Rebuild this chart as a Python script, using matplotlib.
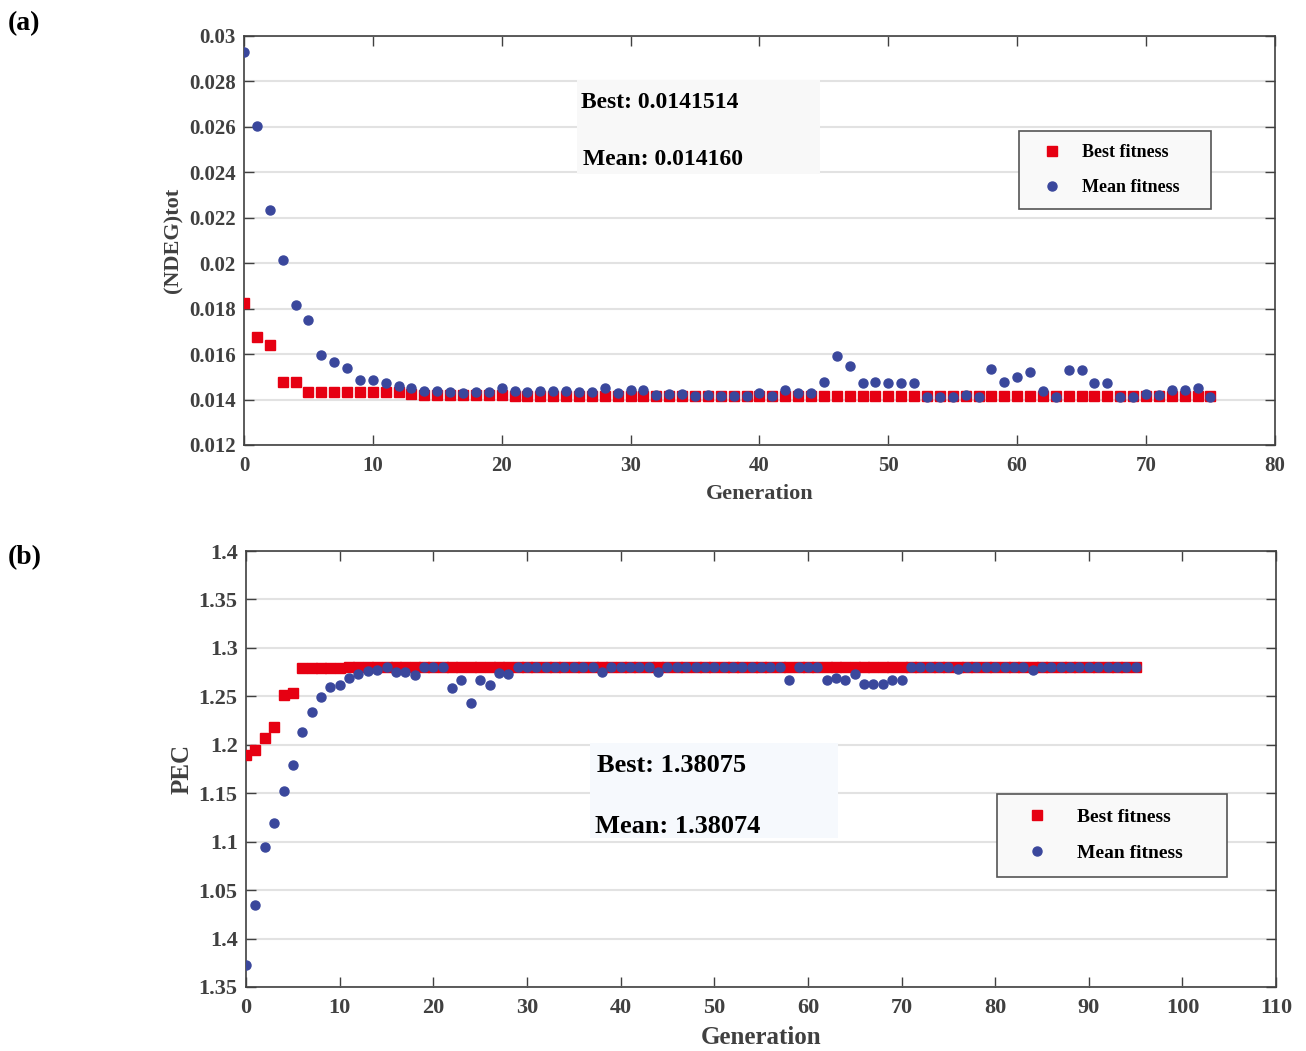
import matplotlib
matplotlib.use("Agg")
import matplotlib.pyplot as plt
from matplotlib.patches import Rectangle

plt.rcParams['font.family'] = ['Liberation Serif', 'DejaVu Serif']
plt.rcParams['font.weight'] = 'bold'

# ---- data: panel (a) ----
gen_a = list(range(76))
best_a = [0.01825, 0.01676, 0.01639, 0.01477, 0.01477, 0.01431, 0.01431, 0.01431,
          0.01431, 0.01431, 0.01431, 0.01431, 0.01431, 0.01425, 0.01420, 0.01420,
          0.01420, 0.01420, 0.01420, 0.01420, 0.01420, 0.01416, 0.01416, 0.01416,
          0.01416, 0.01416, 0.01416, 0.01416, 0.01416, 0.01416, 0.01416, 0.01416,
          0.01416, 0.01416, 0.01416, 0.01416, 0.01416, 0.01416, 0.01416, 0.01416,
          0.01416, 0.01416, 0.01416, 0.01416, 0.01416, 0.01416, 0.01416, 0.01416,
          0.01416, 0.01416, 0.01416, 0.01416, 0.01416, 0.01416, 0.01416, 0.01416,
          0.01416, 0.01416, 0.01416, 0.01416, 0.01416, 0.01416, 0.01416, 0.01416,
          0.01416, 0.01416, 0.01416, 0.01416, 0.01416, 0.01416, 0.01416, 0.01416,
          0.01416, 0.01416, 0.01416, 0.01415]
mean_a = [0.02930, 0.02604, 0.02234, 0.02014, 0.01816, 0.01750, 0.01594, 0.01566,
          0.01539, 0.01486, 0.01486, 0.01472, 0.01460, 0.01451, 0.01439, 0.01436,
          0.01432, 0.01429, 0.01434, 0.01434, 0.01451, 0.01439, 0.01435, 0.01436,
          0.01436, 0.01436, 0.01434, 0.01434, 0.01452, 0.01428, 0.01440, 0.01440,
          0.01419, 0.01425, 0.01425, 0.01416, 0.01419, 0.01416, 0.01416, 0.01416,
          0.01428, 0.01416, 0.01440, 0.01428, 0.01428, 0.01476, 0.01590, 0.01547,
          0.01473, 0.01476, 0.01473, 0.01473, 0.01473, 0.01413, 0.01413, 0.01413,
          0.01419, 0.01413, 0.01533, 0.01476, 0.01499, 0.01523, 0.01437, 0.01413,
          0.01532, 0.01532, 0.01473, 0.01473, 0.01413, 0.01413, 0.01425, 0.01419,
          0.01440, 0.01440, 0.01449, 0.01413]
yticks_a = [0.012, 0.014, 0.016, 0.018, 0.02, 0.022, 0.024, 0.026, 0.028, 0.03]
ylabels_a = ['0.012', '0.014', '0.016', '0.018', '0.02', '0.022', '0.024', '0.026', '0.028', '0.03']

# ---- data: panel (b) ----
gen_b = list(range(96))
best_b = [1.1890, 1.1942, 1.2069, 1.2186, 1.2510, 1.2538, 1.2792, 1.2792, 1.2792, 1.2792,
          1.2792, 1.2805, 1.2805, 1.2805, 1.2805, 1.2805, 1.2805, 1.2805, 1.2805, 1.2805,
          1.2805, 1.2805, 1.2805, 1.2805, 1.2805, 1.2805, 1.2805, 1.2805, 1.2805, 1.2805,
          1.2805, 1.2805, 1.2805, 1.2805, 1.2805, 1.2805, 1.2805, 1.2805, 1.2805, 1.2805,
          1.2805, 1.2805, 1.2805, 1.2805, 1.2805, 1.2805, 1.2805, 1.2805, 1.2805, 1.2805,
          1.2805, 1.2805, 1.2805, 1.2805, 1.2805, 1.2805, 1.2805, 1.2805, 1.2805, 1.2805,
          1.2805, 1.2805, 1.2805, 1.2805, 1.2805, 1.2805, 1.2805, 1.2805, 1.2805, 1.2805,
          1.2805, 1.2805, 1.2805, 1.2805, 1.2805, 1.2805, 1.2805, 1.2805, 1.2805, 1.2805,
          1.2805, 1.2805, 1.2805, 1.2805, 1.2805, 1.2805, 1.2805, 1.2805, 1.2805, 1.2805,
          1.2805, 1.2805, 1.2805, 1.2805, 1.2805, 1.2805]
mean_b = [0.9722, 1.0346, 1.0945, 1.1193, 1.1523, 1.1791, 1.2137, 1.2335, 1.2497, 1.2593,
          1.2617, 1.2689, 1.2727, 1.2765, 1.2775, 1.2800, 1.2755, 1.2748, 1.2717, 1.2801,
          1.2801, 1.2801, 1.2583, 1.2669, 1.2436, 1.2669, 1.2617, 1.2744, 1.2734, 1.2801,
          1.2801, 1.2801, 1.2801, 1.2801, 1.2801, 1.2801, 1.2801, 1.2801, 1.2755, 1.2801,
          1.2801, 1.2801, 1.2801, 1.2801, 1.2755, 1.2801, 1.2801, 1.2801, 1.2801, 1.2801,
          1.2801, 1.2801, 1.2801, 1.2801, 1.2801, 1.2801, 1.2801, 1.2801, 1.2668, 1.2801,
          1.2801, 1.2801, 1.2664, 1.2685, 1.2664, 1.2727, 1.2629, 1.2629, 1.2629, 1.2664,
          1.2664, 1.2801, 1.2801, 1.2801, 1.2801, 1.2801, 1.2783, 1.2801, 1.2801, 1.2801,
          1.2801, 1.2801, 1.2801, 1.2801, 1.2776, 1.2801, 1.2801, 1.2801, 1.2801, 1.2801,
          1.2801, 1.2801, 1.2801, 1.2801, 1.2801, 1.2801]
yticks_b = [0.95, 1.0, 1.05, 1.1, 1.15, 1.2, 1.25, 1.3, 1.35, 1.4]
ylabels_b = ['1.35', '1.4', '1.05', '1.1', '1.15', '1.2', '1.25', '1.3', '1.35', '1.4']

RED = '#e60012'
BLUE = '#3a479c'
GRAY = '#404040'

fig = plt.figure(figsize=(13.06, 10.51), dpi=100)
ax1 = fig.add_axes([0.1868, 0.5766, 0.7894, 0.3892])
ax2 = fig.add_axes([0.1884, 0.0609, 0.7887, 0.4148])


def style(ax, fs):
    for s in ax.spines.values():
        s.set_color(GRAY)
        s.set_linewidth(1.2)
    ax.tick_params(direction='in', length=7, width=1, colors=GRAY,
                   top=True, right=True, labelsize=fs)
    ax.tick_params(axis='x', pad=8)
    ax.tick_params(axis='y', pad=6)
    ax.grid(axis='y', color='#e2e2e2', linewidth=1.5)
    ax.set_axisbelow(True)
    for lab in ax.get_xticklabels() + ax.get_yticklabels():
        lab.set_fontweight('bold')


# panel (a)
ax1.plot(gen_a, best_a, 's', color=RED, ms=6.5, label='Best fitness', zorder=3)
ax1.plot(gen_a, mean_a, 'o', color=BLUE, ms=6.5, label='Mean fitness', zorder=4)
ax1.set_xlim(0, 80)
ax1.set_ylim(0.012, 0.03)
ax1.set_xticks(range(0, 81, 10))
ax1.set_yticks(yticks_a)
ax1.set_yticklabels(ylabels_a)
style(ax1, 15)
ax1.set_xlabel('Generation', fontsize=16, fontweight='bold', color=GRAY, labelpad=6)
ax1.set_ylabel('(NDEG)tot', fontsize=16, fontweight='bold', color=GRAY, labelpad=4)
ax1.add_patch(Rectangle((0.323, 0.6626), 0.2357, 0.2298, transform=ax1.transAxes,
                        facecolor='#f8f8f8', edgecolor='none', zorder=5))
ax1.text(0.3268, 0.838, 'Best: 0.0141514', transform=ax1.transAxes, fontsize=17,
         fontweight='bold', va='center', ha='left', zorder=6)
ax1.text(0.3287, 0.699, 'Mean: 0.014160', transform=ax1.transAxes, fontsize=17,
         fontweight='bold', va='center', ha='left', zorder=6)
leg1 = ax1.legend(loc='upper left', bbox_to_anchor=(0.7517, 0.5, 0.1862, 0.2677),
                  mode='expand', fontsize=13,
                  fancybox=False, edgecolor='#555555', facecolor='#f9f9f9', framealpha=1,
                  handlelength=2.2, handletextpad=0.6, borderpad=0.72, labelspacing=1.0,
                  borderaxespad=0)
leg1.get_frame().set_linewidth(1.2)
leg1.set_zorder(7)

# panel (b)
ax2.plot(gen_b, best_b, 's', color=RED, ms=7, label='Best fitness', zorder=3)
ax2.plot(gen_b, mean_b, 'o', color=BLUE, ms=6.5, label='Mean fitness', zorder=4)
ax2.set_xlim(0, 110)
ax2.set_ylim(0.95, 1.4)
ax2.set_xticks(range(0, 111, 10))
ax2.set_yticks(yticks_b)
ax2.set_yticklabels(ylabels_b)
style(ax2, 16)
ax2.set_xlabel('Generation', fontsize=18, fontweight='bold', color=GRAY, labelpad=6)
ax2.set_ylabel('PEC', fontsize=18, fontweight='bold', color=GRAY, labelpad=4)
ax2.add_patch(Rectangle((0.334, 0.3417), 0.2408, 0.2179, transform=ax2.transAxes,
                        facecolor='#f6f9fd', edgecolor='none', zorder=5))
ax2.text(0.3408, 0.509, 'Best: 1.38075', transform=ax2.transAxes, fontsize=19,
         fontweight='bold', va='center', ha='left', zorder=6)
ax2.text(0.3388, 0.367, 'Mean: 1.38074', transform=ax2.transAxes, fontsize=19,
         fontweight='bold', va='center', ha='left', zorder=6)
leg2 = ax2.legend(loc='upper left', bbox_to_anchor=(0.729, 0.2, 0.2233, 0.2427),
                  mode='expand', fontsize=14,
                  fancybox=False, edgecolor='#555555', facecolor='#f9f9f9', framealpha=1,
                  handlelength=2.6, handletextpad=0.75, borderpad=0.75, labelspacing=0.95,
                  borderaxespad=0)
leg2.get_frame().set_linewidth(1.2)
leg2.set_zorder(7)

fig.text(0.006, 0.978, '(a)', fontsize=20, fontweight='bold', va='center', ha='left')
fig.text(0.006, 0.469, '(b)', fontsize=20, fontweight='bold', va='center', ha='left')

fig.savefig('out.png', dpi=100)
